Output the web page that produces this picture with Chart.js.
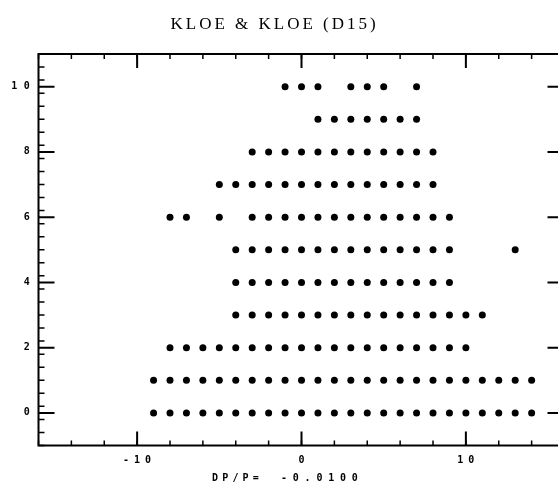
<!DOCTYPE html>
<html>
<head>
<meta charset="utf-8">
<script src="https://cdn.jsdelivr.net/npm/chart.js@4"></script>
<style>
  html, body { margin: 0; padding: 0; background: #fff; overflow: hidden; }
  canvas { display: block; }
</style>
</head>
<body>
<canvas id="plot" width="580" height="492"></canvas>
<script>
// x positions of the points on each y level
const row0 = [-9, -8, -7, -6, -5, -4, -3, -2, -1, 0, 1, 2, 3, 4, 5, 6, 7, 8, 9, 10, 11, 12, 13, 14];
const row1 = [-9, -8, -7, -6, -5, -4, -3, -2, -1, 0, 1, 2, 3, 4, 5, 6, 7, 8, 9, 10, 11, 12, 13, 14];
const row2 = [-8, -7, -6, -5, -4, -3, -2, -1, 0, 1, 2, 3, 4, 5, 6, 7, 8, 9, 10];
const row3 = [-4, -3, -2, -1, 0, 1, 2, 3, 4, 5, 6, 7, 8, 9, 10, 11];
const row4 = [-4, -3, -2, -1, 0, 1, 2, 3, 4, 5, 6, 7, 8, 9];
const row5 = [-4, -3, -2, -1, 0, 1, 2, 3, 4, 5, 6, 7, 8, 9, 13];
const row6 = [-8, -7, -5, -3, -2, -1, 0, 1, 2, 3, 4, 5, 6, 7, 8, 9];
const row7 = [-5, -4, -3, -2, -1, 0, 1, 2, 3, 4, 5, 6, 7, 8];
const row8 = [-3, -2, -1, 0, 1, 2, 3, 4, 5, 6, 7, 8];
const row9 = [1, 2, 3, 4, 5, 6, 7];
const row10 = [-1, 0, 1, 3, 4, 5, 7];
const rows = [row0, row1, row2, row3, row4, row5, row6, row7, row8, row9, row10];

// axis labelling
const xTickLabels = [-10, 0, 10];
const yTickLabels = [0, 2, 4, 6, 8, 10];
const xMinorStep = 2;
const yMinorStep = 0.4;
const titleText = 'KLOE & KLOE (D15)';
const axisName = 'DP/P=';
const axisValue = '-0.0100';

const points = [];
rows.forEach((xs, yv) => xs.forEach(xv => points.push({ x: xv, y: yv })));

// draws characters on a fixed pitch, like the old plotter lettering
function spaced(ctx, text, cx, cy, pitch, align) {
    const n = text.length;
    let start;
    if (align === 'right') start = cx - (n - 1) * pitch;
    else if (align === 'left') start = cx;
    else start = cx - (n - 1) * pitch / 2;
    for (let i = 0; i < n; i++) ctx.fillText(text[i], start + i * pitch, cy);
}

const frame = {
    id: 'frame',
    afterDraw(chart) {
        const { ctx, chartArea: a, scales: { x, y } } = chart;
        ctx.save();
        ctx.strokeStyle = '#000';
        ctx.fillStyle = '#000';

        // minor ticks
        ctx.lineWidth = 1.5;
        ctx.beginPath();
        for (let v = x.min; v <= x.max + 1e-6; v += xMinorStep) {
            const px = x.getPixelForValue(v);
            ctx.moveTo(px, a.bottom); ctx.lineTo(px, a.bottom - 5);
            ctx.moveTo(px, a.top); ctx.lineTo(px, a.top + 5);
        }
        for (let v = y.min; v <= y.max + 1e-6; v += yMinorStep) {
            const py = y.getPixelForValue(v);
            ctx.moveTo(a.left, py); ctx.lineTo(a.left + 6, py);
            ctx.moveTo(a.right, py); ctx.lineTo(a.right - 6, py);
        }
        ctx.stroke();

        // major ticks
        ctx.lineWidth = 2;
        ctx.beginPath();
        xTickLabels.forEach(v => {
            const px = x.getPixelForValue(v);
            ctx.moveTo(px, a.bottom); ctx.lineTo(px, a.bottom - 14);
            ctx.moveTo(px, a.top); ctx.lineTo(px, a.top + 14);
        });
        yTickLabels.forEach(v => {
            const py = y.getPixelForValue(v);
            ctx.moveTo(a.left, py); ctx.lineTo(a.left + 16, py);
            ctx.moveTo(a.right, py); ctx.lineTo(a.right - 17, py);
        });
        ctx.stroke();

        // box
        ctx.lineWidth = 2;
        ctx.strokeRect(a.left, a.top, a.right - a.left, a.bottom - a.top);

        // tick labels
        ctx.font = 'bold 10px "DejaVu Sans Mono"';
        ctx.textAlign = 'center';
        ctx.textBaseline = 'middle';
        yTickLabels.forEach(v => spaced(ctx, String(v), 26.7, y.getPixelForValue(v), 12.5, 'right'));
        xTickLabels.forEach(v => spaced(ctx, String(v), x.getPixelForValue(v), 460, 11, 'center'));

        // axis caption
        spaced(ctx, axisName, 215, 478, 10.2, 'left');
        spaced(ctx, axisValue, 284, 478, 11.8, 'left');

        // title
        ctx.font = '17px "Liberation Serif"';
        ctx.textBaseline = 'alphabetic';
        ctx.textAlign = 'left';
        ctx.letterSpacing = '3px';
        ctx.fillText(titleText, 170.5, 29);
        ctx.restore();
    }
};

new Chart(document.getElementById('plot'), {
    type: 'scatter',
    data: {
        datasets: [{
            data: points,
            pointStyle: 'circle',
            pointRadius: 3.5,
            pointBorderWidth: 0,
            backgroundColor: '#000',
            borderColor: '#000'
        }]
    },
    options: {
        responsive: false,
        animation: false,
        devicePixelRatio: 1,
        layout: { padding: { left: 38.5, right: 15.5, top: 54, bottom: 46.5 } },
        scales: {
            x: { type: 'linear', min: -16, max: 16, display: false },
            y: { type: 'linear', min: -1, max: 11, display: false }
        },
        plugins: { legend: { display: false }, tooltip: { enabled: false } }
    },
    plugins: [frame]
});
</script>
</body>
</html>
